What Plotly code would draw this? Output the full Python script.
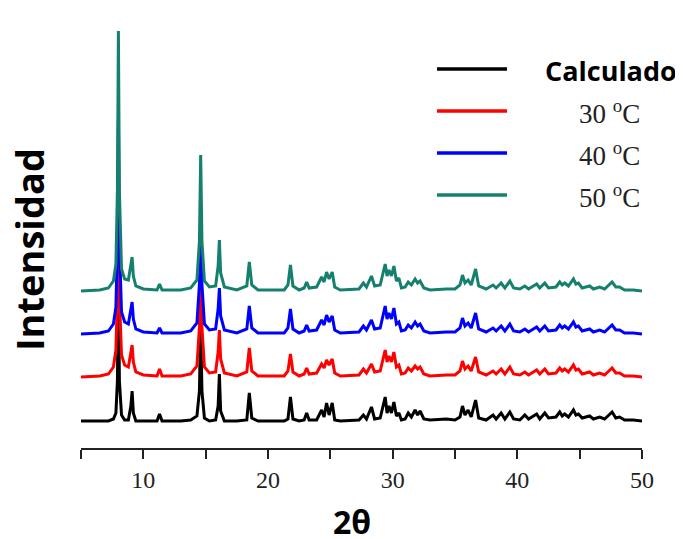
import plotly.graph_objects as go

# ---- data ----
two_theta = [5.0, 6.5, 7.2, 7.6, 7.8, 7.92, 8.0, 8.08, 8.25, 8.5, 8.8, 9.0, 9.1, 9.2, 9.4,
             10.0, 11.1, 11.3, 11.5, 13.0, 13.8, 14.3, 14.5, 14.6, 14.7, 14.9, 15.3, 15.8,
             16.0, 16.1, 16.2, 16.5, 17.5, 18.3, 18.5, 18.7, 19.2, 21.3, 21.6, 21.8, 22.0,
             22.5, 22.9, 23.1, 23.3, 23.9, 24.3, 24.5, 24.7, 24.9, 25.15, 25.35, 25.8, 27.3,
             27.65, 27.9, 28.3, 28.55, 29.0, 29.4, 29.55, 29.7, 29.9, 30.1, 30.3, 30.5, 30.7,
             31.0, 31.25, 31.5, 31.8, 32.0, 32.2, 32.5, 33.0, 34.3, 35.0, 35.4, 35.6, 35.8,
             36.05, 36.3, 36.65, 36.9, 37.5, 38.05, 38.3, 38.7, 39.0, 39.4, 39.7, 40.2, 40.6,
             40.9, 41.55, 41.8, 42.2, 42.5, 43.1, 43.4, 43.6, 43.8, 44.1, 44.5, 44.7, 44.9,
             45.2, 45.8, 46.1, 46.6, 47.0, 47.6, 47.9, 48.2, 48.6, 49.3, 50.0]

int_calculado = [0, 0, 0, 2, 8, 40, 140, 40, 6, 1, 1, 15, 30, 8, 0,
                 0, 0, 7, 0, 0, 1, 5, 30, 100, 30, 3, 0, 1,
                 15, 47, 10, 0, 0, 1, 28, 3, 0, 0, 2, 24, 2,
                 0, 1, 8, 1, 1, 11, 4, 18, 6, 18, 1, 0, 1,
                 6, 2, 14, 2, 3, 24, 8, 15, 8, 19, 5, 8, 1,
                 2, 8, 4, 11, 6, 10, 2, 1, 2, 1, 4, 15, 6,
                 11, 4, 21, 3, 1, 6, 2, 8, 2, 9, 2, 1, 6,
                 2, 7, 2, 8, 3, 4, 9, 5, 7, 4, 11, 6, 7,
                 3, 5, 2, 4, 2, 9, 3, 4, 1, 1, 0]

int_30C = [0, 1, 3, 10, 27, 80, 190, 80, 22, 12, 10, 25, 32, 15, 5,
           2, 1, 8, 1, 1, 3, 11, 50, 110, 50, 10, 4, 5,
           25, 47, 18, 4, 1, 5, 29, 6, 1, 1, 6, 23, 5,
           1, 3, 9, 3, 4, 13, 9, 17, 12, 18, 4, 1, 2,
           8, 4, 13, 5, 6, 27, 15, 21, 15, 25, 10, 12, 3,
           4, 9, 6, 11, 8, 10, 3, 1, 2, 2, 6, 16, 8,
           11, 6, 20, 5, 2, 6, 3, 8, 3, 10, 3, 2, 5,
           2, 7, 3, 8, 3, 4, 9, 6, 8, 5, 12, 7, 8,
           3, 5, 2, 4, 2, 9, 4, 4, 1, 1, 0]

int_40C = [0, 1, 3, 10, 27, 90, 215, 90, 22, 12, 10, 25, 32, 15, 5,
           2, 1, 6, 1, 1, 3, 11, 50, 115, 50, 10, 4, 5,
           25, 46, 18, 4, 1, 5, 28, 6, 1, 1, 6, 25, 5,
           1, 3, 9, 3, 4, 14, 9, 19, 12, 18, 4, 1, 2,
           8, 4, 14, 5, 6, 28, 15, 21, 15, 26, 10, 12, 3,
           4, 9, 6, 12, 8, 10, 3, 1, 2, 2, 6, 16, 8,
           11, 6, 21, 5, 2, 6, 3, 8, 3, 10, 3, 2, 5,
           2, 7, 3, 8, 3, 4, 9, 6, 8, 5, 12, 7, 8,
           3, 5, 2, 4, 2, 9, 4, 4, 1, 1, 0]

int_50C = [0, 1, 3, 10, 27, 100, 260, 100, 22, 12, 11, 25, 34, 15, 5,
           2, 1, 7, 1, 1, 3, 11, 50, 136, 50, 10, 4, 5,
           25, 51, 18, 4, 1, 5, 29, 6, 1, 1, 6, 26, 5,
           1, 3, 9, 3, 4, 14, 9, 19, 12, 19, 4, 1, 2,
           8, 4, 15, 5, 6, 27, 15, 21, 15, 25, 10, 13, 3,
           4, 9, 6, 12, 8, 10, 3, 1, 2, 2, 6, 16, 8,
           11, 6, 22, 5, 2, 6, 3, 8, 3, 10, 3, 2, 5,
           2, 7, 3, 8, 3, 4, 9, 6, 8, 5, 12, 7, 8,
           3, 5, 2, 4, 2, 9, 4, 4, 1, 1, 0]

series_names = ["Calculado", "30 <sup>o</sup>C", "40 <sup>o</sup>C", "50 <sup>o</sup>C"]
series_offsets = [0, 44, 87, 130]
series_values = [int_calculado, int_30C, int_40C, int_50C]

x_tick_vals = [5, 10, 15, 20, 25, 30, 35, 40, 45, 50]
x_tick_text = ["", "10", "", "20", "", "30", "", "40", "", "50"]

# ---- styling ----
colors = ["#000000", "#ff0000", "#0000ff", "#16806f"]

OFF = 8  # page body margin in the browser
W, H = 683 - OFF, 539 - OFF
L, R, T, B = 81 - OFF, 41, 25 - OFF, 91
PW, PH = W - L - R, H - T - B


def px_x(px):
    return (px - OFF - L) / PW


def px_y(py):
    return (H - B - (py - OFF)) / PH


fig = go.Figure()
for name, vals, off, col in zip(series_names, series_values, series_offsets, colors):
    fig.add_trace(go.Scatter(
        x=two_theta, y=[v + off for v in vals], mode="lines", name=name,
        line=dict(color=col, width=3), showlegend=False,
    ))

# manual legend
legend_y = [69, 111, 153, 195]
for i, (name, col) in enumerate(zip(series_names, colors)):
    fig.add_shape(type="line", xref="paper", yref="paper",
                  x0=px_x(437), x1=px_x(507), y0=px_y(legend_y[i]), y1=px_y(legend_y[i]),
                  line=dict(color=col, width=3.5))
    if i == 0:
        fig.add_annotation(xref="paper", yref="paper", x=px_x(611), y=px_y(legend_y[i] + 1),
                           text="<b>" + name + "</b>", showarrow=False,
                           xanchor="center", yanchor="middle",
                           font=dict(family="Open Sans", size=27, color="black"))
    else:
        fig.add_annotation(xref="paper", yref="paper", x=px_x(609), y=px_y(legend_y[i] + 1),
                           text=name, showarrow=False,
                           xanchor="center", yanchor="middle",
                           font=dict(family="Liberation Serif", size=27, color="#222222"))

# axis titles
fig.add_annotation(xref="paper", yref="paper", x=px_x(352), y=px_y(521),
                   text="<b>2θ</b>", showarrow=False, xanchor="center", yanchor="middle",
                   font=dict(family="Open Sans", size=32, color="black"))
fig.add_annotation(xref="paper", yref="paper", x=px_x(29), y=px_y(250),
                   text="<b>Intensidad</b>", showarrow=False, textangle=-90,
                   xanchor="center", yanchor="middle",
                   font=dict(family="Open Sans", size=38, color="black"))

fig.update_layout(
    width=W, height=H,
    margin=dict(l=L, r=R, t=T, b=B),
    paper_bgcolor="white", plot_bgcolor="white",
    showlegend=False,
    xaxis=dict(range=[5, 50], tickmode="array", tickvals=x_tick_vals, ticktext=x_tick_text,
               ticks="outside", ticklen=9, tickwidth=1.5, tickcolor="#222222",
               showline=True, linecolor="#222222", linewidth=1.5,
               showgrid=False, zeroline=False,
               tickfont=dict(family="Liberation Serif", size=24, color="#222222")),
    yaxis=dict(range=[-27, 396], visible=False, showgrid=False, zeroline=False),
)

fig.write_html("out.html")
